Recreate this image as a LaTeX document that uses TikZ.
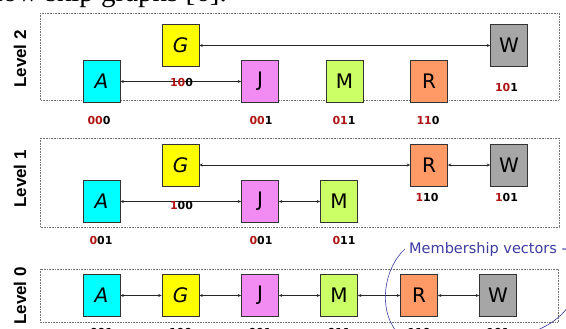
\documentclass[tikz,border=0pt]{standalone}
\usepackage{fontspec}
\setmainfont{Liberation Serif}
\newfontfamily\boxfont{DejaVu Sans}
\newfontfamily\numfont{DejaVu Sans}
\newfontfamily\lvlfont{Liberation Sans}
\usetikzlibrary{arrows.meta}
\definecolor{cA}{HTML}{00FFFF}
\definecolor{cG}{HTML}{FFFF00}
\definecolor{cJ}{HTML}{F28CF2}
\definecolor{cM}{HTML}{CCFF66}
\definecolor{cR}{HTML}{FF9966}
\definecolor{cW}{HTML}{A6A6A6}
\definecolor{dred}{HTML}{B01414}
\definecolor{memb}{HTML}{3C3CA0}
\tikzset{
  nbox/.style={draw=black!80, line width=0.6pt, minimum width=37pt, minimum height=42pt, inner sep=0pt,
    font=\boxfont\fontsize{20}{20}\selectfont},
  lnk/.style={line width=0.7pt, draw=black!85, {Stealth[length=3.5pt,width=3pt]}-{Stealth[length=3.5pt,width=3pt]}},
  frm/.style={draw=black!55, line width=0.6pt, densely dotted},
  lvl/.style={rotate=90, font=\lvlfont\bfseries\fontsize{17}{17}\selectfont},
  vec/.style={font=\numfont\bfseries\fontsize{11}{11}\selectfont, inner sep=0pt},
}
\newcommand{\rd}[1]{\textcolor{dred}{#1}}
\begin{document}
\begin{tikzpicture}[x=1pt,y=-1pt]
\useasboundingbox (0,0) rectangle (566,329);
% top clipped text
\node[anchor=base east, font=\fontsize{29}{29}\selectfont, inner sep=0pt] (top) at (227,1.5) {show skip graphs [6].};
% frames
\draw[frm] (40,13) rectangle (559,100);
\draw[frm] (40,138) rectangle (559,227);
\draw[frm] (40,269) rectangle (558,322);
% level labels
\node[lvl] (l2) at (20,59) {Level 2};
\node[lvl] (l1) at (20,179) {Level 1};
\node[lvl] (l0) at (20,296) {Level 0};
% Level 2
\node[nbox, fill=cA] (A2) at (101.5,81.5) {\itshape A};
\node[nbox, fill=cG] (G2) at (180.5,45.5) {\itshape G};
\node[nbox, fill=cJ] (J2) at (260,81.5) {J};
\node[nbox, fill=cM] (M2) at (344.5,81.5) {M};
\node[nbox, fill=cR] (R2) at (429,81.5) {R};
\node[nbox, fill=cW] (W2) at (509,45.5) {W};
\draw[lnk] (A2.east) -- (J2.west);
\draw[lnk] (G2.east) -- (W2.west);
\node[vec] (v2g) at (181.5,82) {\rd{10}0};
\node[vec] (v2w) at (506.5,87) {\rd{10}1};
\node[vec] (v2a) at (99,120) {\rd{00}0};
\node[vec] (v2j) at (261,120) {\rd{00}1};
\node[vec] (v2m) at (344,120) {\rd{01}1};
\node[vec] (v2r) at (428,120) {\rd{11}0};
% Level 1
\node[nbox, fill=cA] (A1) at (101.5,201.5) {\itshape A};
\node[nbox, fill=cG] (G1) at (180.5,165) {\itshape G};
\node[nbox, fill=cJ] (J1) at (260,201.5) {J};
\node[nbox, fill=cM] (M1) at (339,201.5) {M};
\node[nbox, fill=cR] (R1) at (429,165) {R};
\node[nbox, fill=cW] (W1) at (509,165) {W};
\draw[lnk] (A1.east) -- (J1.west);
\draw[lnk] (J1.east) -- (M1.west);
\draw[lnk] (G1.east) -- (R1.west);
\draw[lnk] (R1.east) -- (W1.west);
\node[vec] (v1g) at (181.5,205) {\rd{1}00};
\node[vec] (v1r) at (427,197) {\rd{1}10};
\node[vec] (v1w) at (506.5,197) {\rd{1}01};
\node[vec] (v1a) at (101,240) {\rd{0}01};
\node[vec] (v1j) at (261,240) {\rd{0}01};
\node[vec] (v1m) at (344,240) {\rd{0}11};
% Level 0
\node[nbox, fill=cA] (A0) at (101.5,295.5) {\itshape A};
\node[nbox, fill=cG] (G0) at (180.5,295.5) {\itshape G};
\node[nbox, fill=cJ] (J0) at (260,295.5) {J};
\node[nbox, fill=cM] (M0) at (339,295.5) {M};
\node[nbox, fill=cR] (R0) at (419,295.5) {R};
\node[nbox, fill=cW] (W0) at (498,295.5) {W};
\draw[lnk] (A0.east) -- (G0.west);
\draw[lnk] (G0.east) -- (J0.west);
\draw[lnk] (J0.east) -- (M0.west);
\draw[lnk] (M0.east) -- (R0.west);
\draw[lnk] (R0.east) -- (W0.west);
\node[vec] (v0a) at (101.5,332.5) {001};
\node[vec] (v0g) at (180.5,332.5) {100};
\node[vec] (v0j) at (260,332.5) {001};
\node[vec] (v0m) at (339,332.5) {011};
\node[vec] (v0r) at (419,332.5) {110};
\node[vec] (v0w) at (498,332.5) {101};
% membership vectors callout
\node[anchor=base west, inner sep=0pt, text=memb, font=\boxfont\fontsize{14.5}{14.5}\selectfont] (mv) at (409,253) {Membership vectors -};
\coordinate (c1) at (405,249);
\coordinate (c2) at (396,331);
\coordinate (c3) at (535,331);
\coordinate (c4) at (568,307);
\draw[memb, line width=0.6pt] (c1) .. controls (384,268) and (378,308) .. (c2);
\draw[memb, line width=0.6pt] (c3) .. controls (548,326) and (560,318) .. (c4);
\end{tikzpicture}
\end{document}
